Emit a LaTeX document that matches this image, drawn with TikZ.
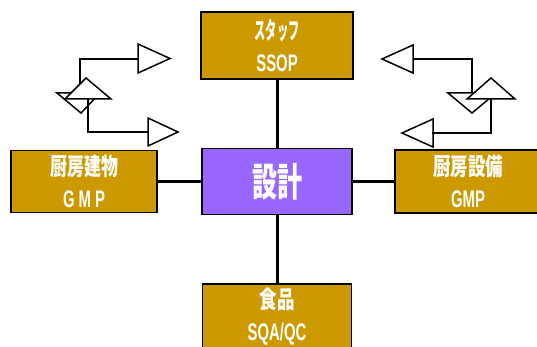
\documentclass[tikz,border=0pt]{standalone}
\usepackage{fontspec}
\usepackage{graphicx}
\usepackage{tikz}
\usepackage{xcolor}
\newfontfamily\jpfont{Noto Sans CJK JP}
\newfontfamily\latfont[FakeStretch=0.62]{Liberation Sans}
\newcommand{\jpsq}[2]{\resizebox{#1}{\height}{\jpfont #2}}
\definecolor{boxgold}{RGB}{204,153,0}
\definecolor{designpurple}{RGB}{153,102,255}

\begin{document}
\begin{tikzpicture}[x=1pt, y=-1pt,
  area/.style={rectangle, draw, line width=1.5pt, fill=boxgold, text=white, align=center,
    inner sep=0pt, font=\bfseries\fontsize{24}{32}\selectfont},
  link/.style={line width=3pt},
  flag/.style={draw, line width=1.5pt, fill=white, line join=miter},
  wire/.style={line width=2pt}]
\useasboundingbox (0,0) rectangle (537,347);
\clip (0,0) rectangle (537,347);
% Design and its four areas
\node[area, minimum width=152pt, minimum height=67pt] (staff) at (277,45.5) {\jpsq{45pt}{スタッフ}\\{\latfont SSOP}};
\node[area, fill=designpurple, minimum width=150pt, minimum height=66pt,
  font=\bfseries\fontsize{39}{40}\selectfont] (design) at (277,181.5) {\jpsq{50pt}{設計}};
\node[area, minimum width=146pt, minimum height=62pt] (building) at (84,181.5) {\jpsq{68pt}{厨房建物}\\{\latfont G\kern4pt M\kern4pt P}};
\node[area, minimum width=146pt, minimum height=63pt] (equipment) at (468,181.5) {\jpsq{70pt}{厨房設備}\\{\latfont GMP}};
\node[area, minimum width=149pt, minimum height=66pt] (food) at (277,317) {\jpsq{35pt}{食品}\\{\latfont SQA/QC}};

\draw[link] (staff) -- (design);
\draw[link] (building) -- (design);
\draw[link] (design) -- (equipment);
\draw[link] (design) -- (food);

% Left feedback symbol
\draw[wire] (80,84) |- (140,59);
\draw[flag] (138,44) -- (170,58.5) -- (138,73) -- cycle;
\draw[flag] (148,118) -- (178,132) -- (148,146) -- cycle;
\draw[flag] (57,93) -- (100,93) -- (81,113) -- cycle;
\draw[flag] (86,78) -- (111,99) -- (65,99) -- cycle;
\draw[wire] (88,99) |- (149,132);

% Right feedback symbol
\draw[wire] (472,93) |- (412,59);
\draw[flag] (413,45) -- (382,59) -- (413,73) -- cycle;
\draw[flag] (433,119) -- (402,133) -- (433,147) -- cycle;
\draw[flag] (448,93) -- (496,93) -- (472,113) -- cycle;
\draw[flag] (491,78) -- (515,99) -- (467,99) -- cycle;
\draw[wire] (491,99) |- (432,133);
\end{tikzpicture}
\end{document}
